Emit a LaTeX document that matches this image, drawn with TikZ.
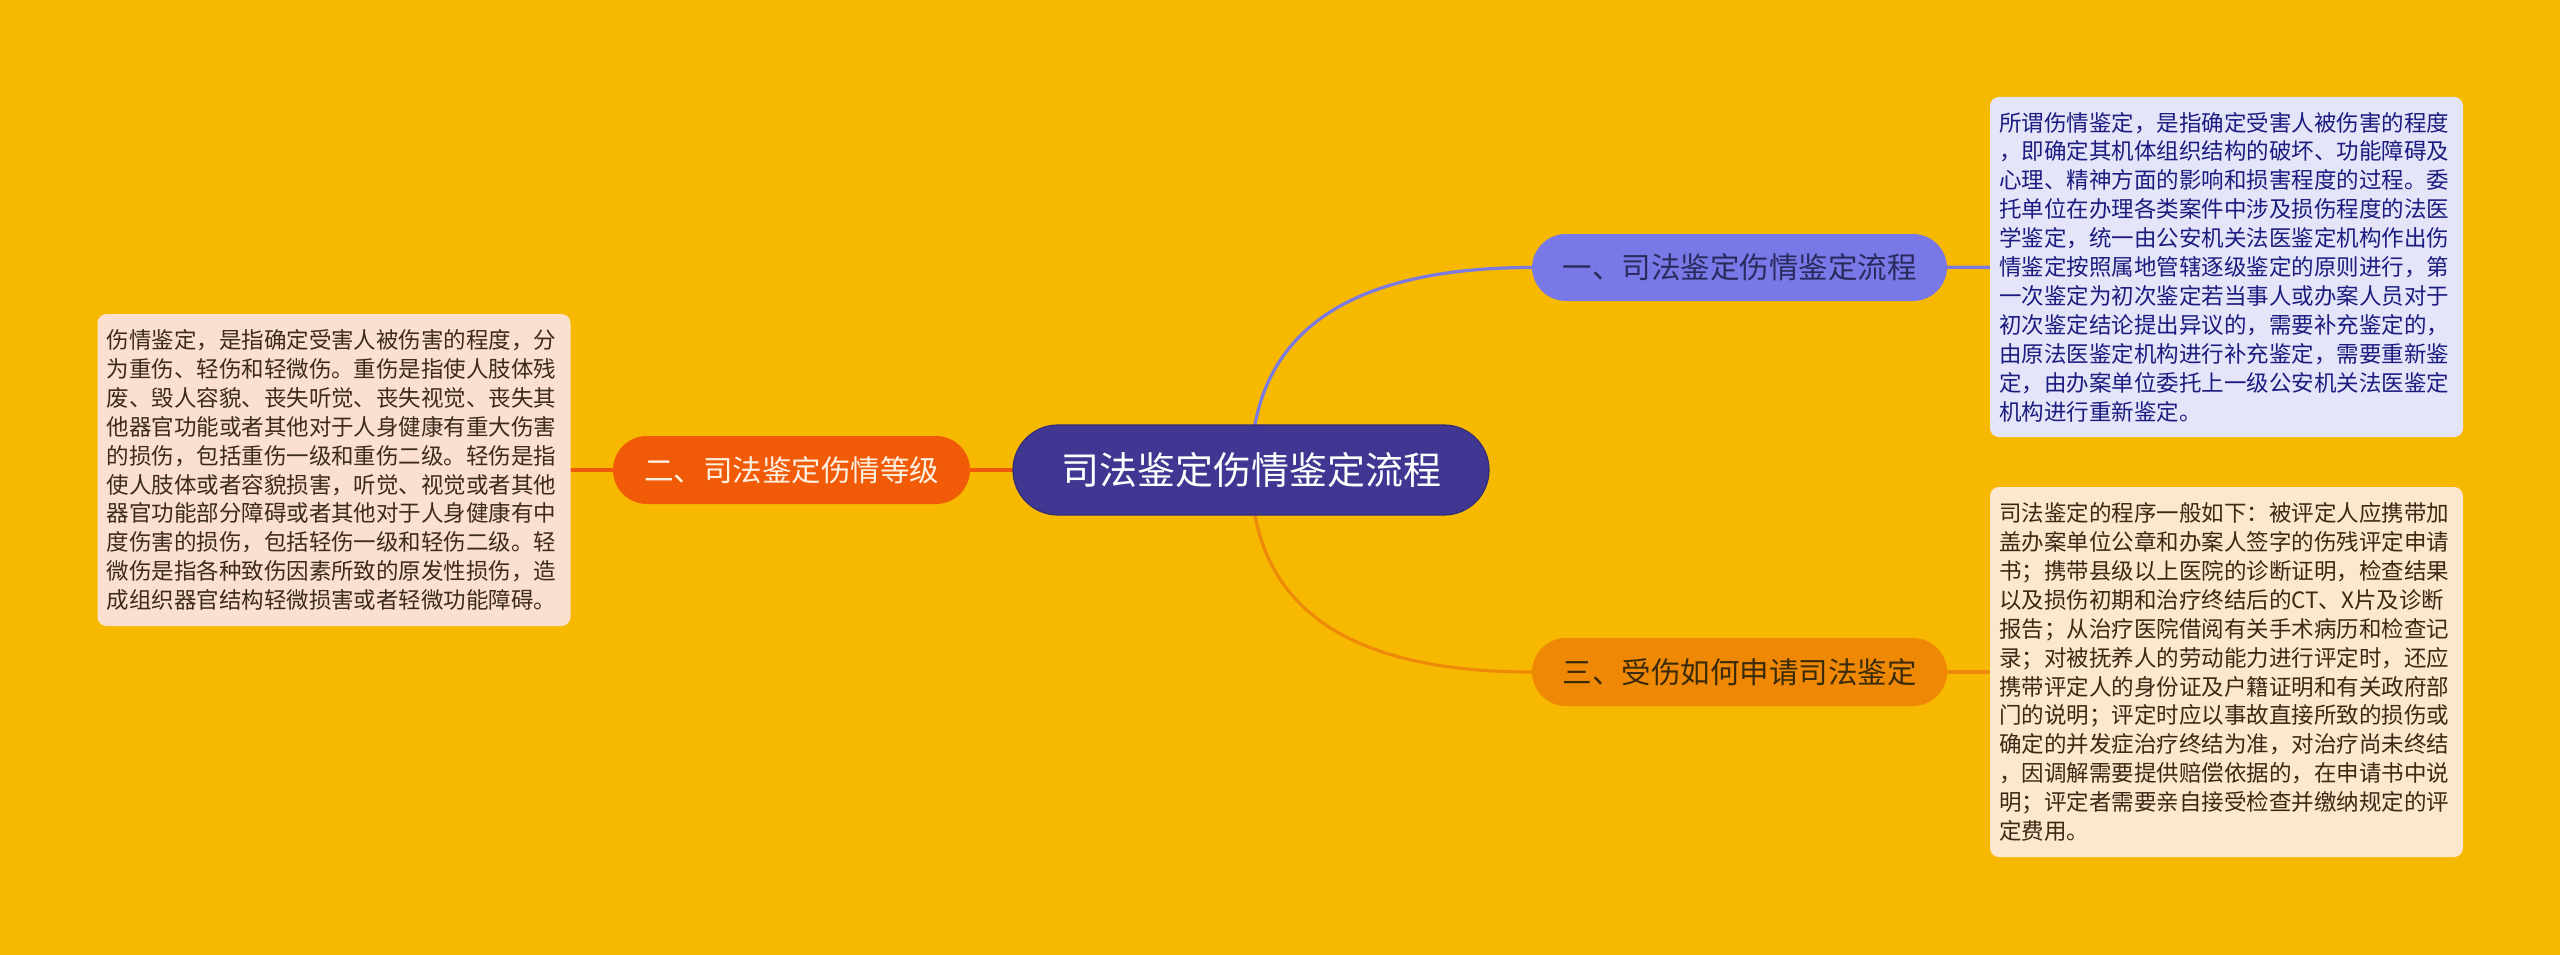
\documentclass[tikz,border=0pt]{standalone}
\usepackage{fontspec}
\setmainfont{Noto Sans CJK SC}
\definecolor{bgyellow}{HTML}{F6B900}
\definecolor{centerfill}{HTML}{3F3791}
\definecolor{centerdraw}{HTML}{332D78}
\definecolor{redfill}{HTML}{F15A06}
\definecolor{bluefill}{HTML}{7879E6}
\definecolor{orangefill}{HTML}{EF8905}
\definecolor{blueline}{HTML}{7A7AE2}
\definecolor{orangeline}{HTML}{EE8A0A}
\definecolor{redline}{HTML}{EE5A0A}
\definecolor{peachbox}{HTML}{FCE0CF}
\definecolor{lavbox}{HTML}{E5E5F9}
\definecolor{creambox}{HTML}{FDE7CF}
\definecolor{browntext}{HTML}{3C2A1E}
\definecolor{navytext}{HTML}{1C1C80}
\definecolor{darkbrown}{HTML}{3A2A12}
\definecolor{creamtext}{HTML}{FFF1E2}
\definecolor{navylabel}{HTML}{2A2A5E}
\definecolor{brownlabel}{HTML}{3B2A08}
\pgfdeclarelayer{bg}
\pgfdeclarelayer{lines}
\pgfsetlayers{bg,lines,main}
\tikzset{
  pill/.style={rounded corners=#1, inner sep=0pt, align=center},
  rootnode/.style={pill=45pt, fill=centerfill, draw=centerdraw, line width=1.2pt,
    minimum width=476pt, minimum height=90pt, text=white,
    font=\fontsize{38}{44}\selectfont},
  branchnode/.style={pill=34pt, minimum height=68pt,
    font=\fontsize{29.5}{34}\selectfont},
  infobox/.style={rounded corners=9pt, inner ysep=0pt, inner xsep=9pt,
    text width=455pt, align=left, font=\fontsize{22.5}{28.9}\selectfont},
  link/.style={line width=3.2pt},
}
\begin{document}
\begin{tikzpicture}[x=1pt,y=-1pt]
\begin{pgfonlayer}{bg}
\fill[bgyellow] (0,0) rectangle (2560,955);
\end{pgfonlayer}
\useasboundingbox (0,0) rectangle (2560,955);

\node[rootnode] (root) at (1251,470) {司法鉴定伤情鉴定流程};

\node[branchnode, fill=redfill, text=creamtext, minimum width=357pt] (b2) at (791.5,470) {二、司法鉴定伤情等级};
\node[branchnode, fill=bluefill, text=navylabel, minimum width=415pt, minimum height=67pt] (b1) at (1739.5,267.5) {一、司法鉴定伤情鉴定流程};
\node[branchnode, fill=orangefill, text=brownlabel, minimum width=415pt] (b3) at (1739.5,672) {三、受伤如何申请司法鉴定};

\node[infobox, fill=peachbox, text=browntext, minimum height=312pt] (t2) at (334,470) {%
伤情鉴定，是指确定受害人被伤害的程度，分\\
为重伤、轻伤和轻微伤。重伤是指使人肢体残\\
废、毁人容貌、丧失听觉、丧失视觉、丧失其\\
他器官功能或者其他对于人身健康有重大伤害\\
的损伤，包括重伤一级和重伤二级。轻伤是指\\
使人肢体或者容貌损害，听觉、视觉或者其他\\
器官功能部分障碍或者其他对于人身健康有中\\
度伤害的损伤，包括轻伤一级和轻伤二级。轻\\
微伤是指各种致伤因素所致的原发性损伤，造\\
成组织器官结构轻微损害或者轻微功能障碍。};

\node[infobox, fill=lavbox, text=navytext, minimum height=340pt] (t1) at (2226.5,267) {%
所谓伤情鉴定，是指确定受害人被伤害的程度\\
，即确定其机体组织结构的破坏、功能障碍及\\
心理、精神方面的影响和损害程度的过程。委\\
托单位在办理各类案件中涉及损伤程度的法医\\
学鉴定，统一由公安机关法医鉴定机构作出伤\\
情鉴定按照属地管辖逐级鉴定的原则进行，第\\
一次鉴定为初次鉴定若当事人或办案人员对于\\
初次鉴定结论提出异议的，需要补充鉴定的，\\
由原法医鉴定机构进行补充鉴定，需要重新鉴\\
定，由办案单位委托上一级公安机关法医鉴定\\
机构进行重新鉴定。};

\node[infobox, fill=creambox, text=darkbrown, minimum height=370pt] (t3) at (2226.5,672) {%
司法鉴定的程序一般如下：被评定人应携带加\\
盖办案单位公章和办案人签字的伤残评定申请\\
书；携带县级以上医院的诊断证明，检查结果\\
以及损伤初期和治疗终结后的CT、X片及诊断\\
报告；从治疗医院借阅有关手术病历和检查记\\
录；对被抚养人的劳动能力进行评定时，还应\\
携带评定人的身份证及户籍证明和有关政府部\\
门的说明；评定时应以事故直接所致的损伤或\\
确定的并发症治疗终结为准，对治疗尚未终结\\
，因调解需要提供赔偿依据的，在申请书中说\\
明；评定者需要亲自接受检查并缴纳规定的评\\
定费用。};

\begin{pgfonlayer}{lines}
\draw[link, redline] (root.center) -- (b2.center);
\draw[link, redline] (b2.center) -- (t2.center);
\draw[link, blueline] (root.center) .. controls (1251,334.7) and (1344.7,267.5) .. (b1.west);
\draw[link, blueline] (b1.center) -- (t1.center);
\draw[link, orangeline] (root.center) .. controls (1251,605.3) and (1344.7,672) .. (b3.west);
\draw[link, orangeline] (b3.center) -- (t3.center);
\end{pgfonlayer}
\end{tikzpicture}
\end{document}
